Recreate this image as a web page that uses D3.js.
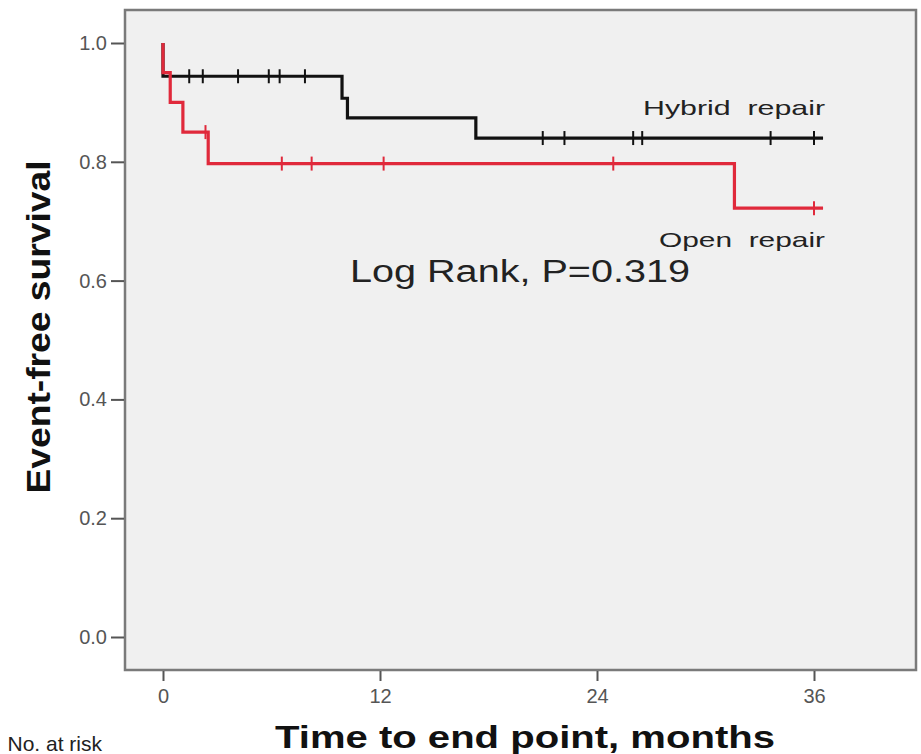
<!DOCTYPE html>
<html>
<head>
<meta charset="utf-8">
<script src="https://cdn.jsdelivr.net/npm/d3@7"></script>
<style>
  body { margin: 0; background: #fff; overflow: hidden; }
  text { font-family: 'Liberation Sans', Arial, sans-serif; }
</style>
</head>
<body>
<svg id="chart"></svg>
<script>
const w = 921, h = 754;
const frame = { left: 125, top: 10, right: 916, bottom: 670 };
const hybridColor = '#111', openColor = '#e0293b';

// Kaplan-Meier steps (months, survival)
const hybridTimes = [0, 0, 9.9, 10.2, 17.3, 36.5];
const hybridSurv = [1, 0.944, 0.907, 0.874, 0.840, 0.840];
const hybridCensored = [1.45, 2.2, 4.15, 5.85, 6.45, 7.85, 21.0, 22.2, 26.0, 26.5, 33.6, 36.0];

const openTimes = [0, 0, 0.4, 1.1, 2.5, 31.6, 36.5];
const openSurv = [1, 0.95, 0.90, 0.85, 0.797, 0.722, 0.722];
const openCensored = [2.35, 6.57, 8.22, 12.2, 24.9, 36.0];

const xTicks = [0, 12, 24, 36];
const yTicks = [0, 0.2, 0.4, 0.6, 0.8, 1.0];

const chart = d3.select('#chart')
    .attr('width', w)
    .attr('height', h);

const xScale = d3.scaleLinear().domain([0, 36]).range([163, 814]);
const yScale = d3.scaleLinear().domain([0, 1]).range([637, 43]);

// plot background + frame
chart.append('rect')
    .attr('x', frame.left)
    .attr('y', frame.top)
    .attr('width', frame.right - frame.left)
    .attr('height', frame.bottom - frame.top)
    .style('fill', '#f0f0f0')
    .style('stroke', '#7a7a7a')
    .style('stroke-width', 2.5);

const yAxis = chart.append('g')
    .attr('transform', `translate(${frame.left - 1}, 0)`)
    .call(d3.axisLeft(yScale).tickValues(yTicks).tickFormat(d3.format('.1f')).tickSize(13).tickPadding(4));
yAxis.select('.domain').remove();
yAxis.selectAll('line').style('stroke', '#555').style('stroke-width', 2);
yAxis.selectAll('text')
    .attr('font-size', '20px')
    .style('fill', '#555')
    .attr('font-family', "'Liberation Sans', Arial, sans-serif");

const xAxis = chart.append('g')
    .attr('transform', `translate(0, ${frame.bottom + 1})`)
    .call(d3.axisBottom(xScale).tickValues(xTicks).tickSize(10).tickPadding(8));
xAxis.select('.domain').remove();
xAxis.selectAll('line').style('stroke', '#555').style('stroke-width', 2);
xAxis.selectAll('text')
    .attr('font-size', '20px')
    .style('fill', '#555')
    .attr('font-family', "'Liberation Sans', Arial, sans-serif");

// survival value at time t for a step series
const survAt = (times, surv, t) => {
    let s = surv[0];
    times.forEach((tt, i) => { if (tt <= t) s = surv[i]; });
    return s;
};

const line = d3.line()
    .x(d => xScale(d[0]))
    .y(d => yScale(d[1]))
    .curve(d3.curveStepAfter);

const drawCurve = (times, surv, censored, color) => {
    const pts = times.map((t, i) => [t, surv[i]]);
    chart.append('path')
        .datum(pts)
        .attr('d', line)
        .style('fill', 'none')
        .style('stroke', color)
        .style('stroke-width', 3.2);

    chart.selectAll(null)
        .data(censored)
        .enter()
        .append('line')
        .attr('x1', d => xScale(d))
        .attr('x2', d => xScale(d))
        .attr('y1', d => yScale(survAt(times, surv, d)) - 7)
        .attr('y2', d => yScale(survAt(times, surv, d)) + 7)
        .style('stroke', color)
        .style('stroke-width', 2);
};

drawCurve(hybridTimes, hybridSurv, hybridCensored, hybridColor);
drawCurve(openTimes, openSurv, openCensored, openColor);

// curve labels
chart.append('text')
    .attr('x', 825)
    .attr('y', 115)
    .attr('text-anchor', 'end')
    .attr('font-size', '21px')
    .attr('textLength', 182)
    .attr('lengthAdjust', 'spacingAndGlyphs')
    .style('fill', '#222')
    .style('white-space', 'pre')
    .text('Hybrid  repair');

chart.append('text')
    .attr('x', 825)
    .attr('y', 247)
    .attr('text-anchor', 'end')
    .attr('font-size', '21px')
    .attr('textLength', 166)
    .attr('lengthAdjust', 'spacingAndGlyphs')
    .style('fill', '#222')
    .style('white-space', 'pre')
    .text('Open  repair');

chart.append('text')
    .attr('x', 520)
    .attr('y', 282)
    .attr('text-anchor', 'middle')
    .attr('font-size', '31px')
    .attr('textLength', 340)
    .attr('lengthAdjust', 'spacingAndGlyphs')
    .style('fill', '#222')
    .text('Log Rank, P=0.319');

// axis titles
chart.append('text')
    .attr('transform', 'translate(50, 327) rotate(-90)')
    .attr('text-anchor', 'middle')
    .attr('font-size', '33px')
    .attr('font-weight', 'bold')
    .attr('textLength', 333)
    .attr('lengthAdjust', 'spacingAndGlyphs')
    .style('fill', '#111')
    .text('Event-free survival');

chart.append('text')
    .attr('x', 525)
    .attr('y', 748)
    .attr('text-anchor', 'middle')
    .attr('font-size', '32px')
    .attr('font-weight', 'bold')
    .attr('textLength', 500)
    .attr('lengthAdjust', 'spacingAndGlyphs')
    .style('fill', '#111')
    .text('Time to end point, months');

// number at risk header
chart.append('text')
    .attr('x', 102)
    .attr('y', 751)
    .attr('text-anchor', 'end')
    .attr('font-size', '21px')
    .style('fill', '#222')
    .text('No. at risk');
</script>
</body>
</html>
